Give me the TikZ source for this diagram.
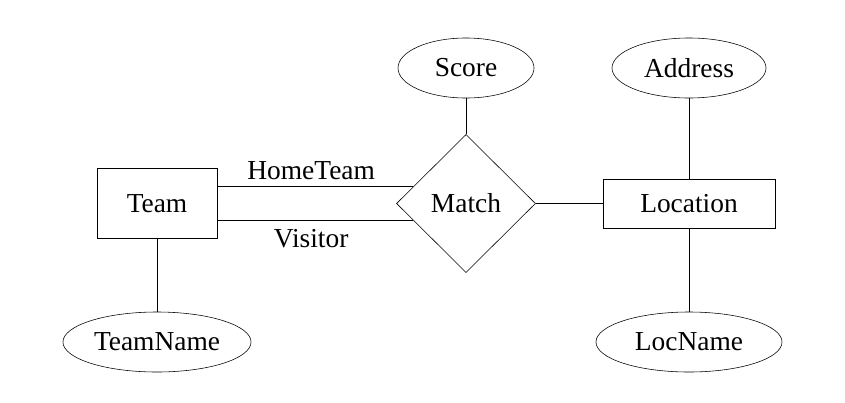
\documentclass[tikz,border=0pt]{standalone}
\usepackage{fontspec}
\setmainfont{Liberation Serif}
\usetikzlibrary{shapes.geometric}

\begin{document}
\begin{tikzpicture}[x=0.025cm, y=-0.025cm,
    every node/.style={font=\fontsize{19.5pt}{23pt}\selectfont},
    entity/.style={rectangle, draw, inner sep=0pt},
    attrib/.style={ellipse, draw, inner sep=0pt, minimum height=1.5cm},
    relship/.style={diamond, draw, inner sep=0pt, minimum width=3.475cm, minimum height=3.45cm}]
      \useasboundingbox (0,0) rectangle (845,402);

      \node[entity, minimum width=3cm, minimum height=1.75cm] (team) at (157,203.5) {Team};
      \node[relship] (match) at (466,203.5) {Match};
      \node[entity, minimum width=4.3cm, minimum height=1.225cm] (location) at (689,203.5) {Location};

      \node[attrib, minimum width=4.7cm] (teamname) at (157,342) {TeamName};
      \node[attrib, minimum width=3.4cm] (score) at (466,68) {Score};
      \node[attrib, minimum width=3.85cm] (address) at (689,68) {Address};
      \node[attrib, minimum width=4.65cm] (locname) at (689,342) {LocName};

      \draw (team.east |- match.162) -- node[above=1pt, xshift=-3pt] {HomeTeam} (match.162);
      \draw (team.east |- match.198) -- node[below=3pt, xshift=-3pt] {Visitor} (match.198);
      \draw (match) -- (location);
      \draw (score) -- (match);
      \draw (address) -- (location) -- (locname);
      \draw (team) -- (teamname);
\end{tikzpicture}
\end{document}
